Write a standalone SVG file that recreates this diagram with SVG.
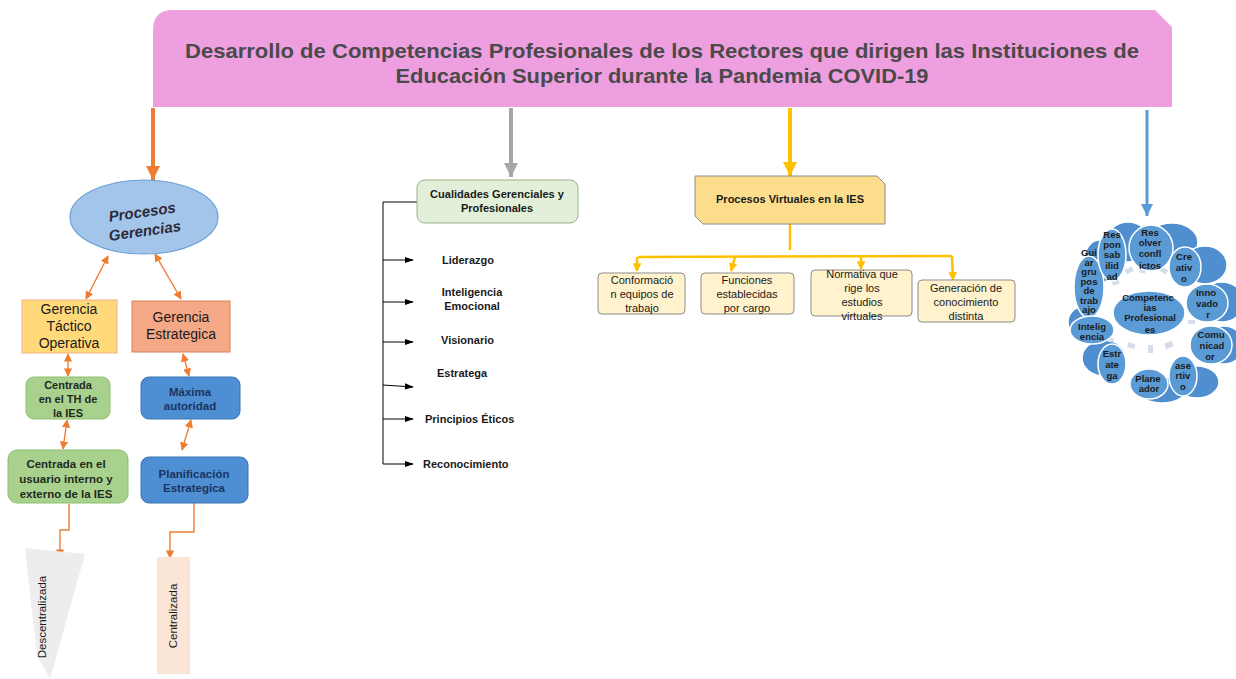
<svg xmlns="http://www.w3.org/2000/svg" width="1236" height="679" viewBox="0 0 1236 679">
<defs>
<style>
.t{font-family:"Liberation Sans",Arial,sans-serif;}
.b{font-weight:bold;}
.c{text-anchor:middle;}
.oc{stroke:#ED7D31;stroke-width:1.4;fill:none;}
.blk{stroke:#000;stroke-width:1;fill:none;}
.yl{stroke:#FFC000;stroke-width:2.5;fill:none;}
.cl{fill:#5B9BD5;stroke:#fff;stroke-width:1.5;}
.tl{fill:#4F8FCF;stroke:#fff;stroke-width:1.5;}
.ct{font-family:"Liberation Sans",Arial,sans-serif;font-weight:bold;font-size:9.5px;text-anchor:middle;fill:#1a1a1a;}
.ds{fill:#D5DDE8;}
</style>
<marker id="mO" viewBox="0 0 10 10" refX="10" refY="5" markerWidth="3.5" markerHeight="3.5" orient="auto"><path d="M0,0L10,5L0,10z" fill="#ED7D31"/></marker>
<marker id="mG" viewBox="0 0 10 10" refX="10" refY="5" markerWidth="3.5" markerHeight="3.5" orient="auto"><path d="M0,0L10,5L0,10z" fill="#A6A6A6"/></marker>
<marker id="mY" viewBox="0 0 10 10" refX="10" refY="5" markerWidth="3.5" markerHeight="3.5" orient="auto"><path d="M0,0L10,5L0,10z" fill="#FFC000"/></marker>
<marker id="mB" viewBox="0 0 10 10" refX="10" refY="5" markerWidth="4" markerHeight="4" orient="auto"><path d="M0,0L10,5L0,10z" fill="#5B9BD5"/></marker>
<marker id="so" viewBox="0 0 10 10" refX="9" refY="5" markerWidth="6" markerHeight="6" orient="auto-start-reverse"><path d="M0,0L10,5L0,10z" fill="#ED7D31"/></marker>
<marker id="sk" viewBox="0 0 10 10" refX="9" refY="5" markerWidth="9" markerHeight="9" orient="auto"><path d="M0,1.5L10,5L0,8.5z" fill="#000"/></marker>
<marker id="sy" viewBox="0 0 10 10" refX="9" refY="5" markerWidth="3.5" markerHeight="3.5" orient="auto"><path d="M0,0L10,5L0,10z" fill="#FFC000"/></marker>
</defs>
<rect width="1236" height="679" fill="#fff"/>

<g id="banner">
<path d="M153,30Q153,10 173,10L1155,10L1172,27L1172,107L153,107Z" fill="#EE9FE0"/>
<text class="t b c" x="662" y="58" font-size="21" fill="#4a4a4a" textLength="954" lengthAdjust="spacingAndGlyphs">Desarrollo de Competencias Profesionales de los Rectores que dirigen las Instituciones de</text>
<text class="t b c" x="662" y="83" font-size="21" fill="#4a4a4a" textLength="533" lengthAdjust="spacingAndGlyphs">Educación Superior durante la Pandemia COVID-19</text>
</g>

<g id="connectors">
<line x1="153" y1="108" x2="153" y2="180" stroke="#ED7D31" stroke-width="4" marker-end="url(#mO)"/>
<line x1="511" y1="108" x2="511" y2="177" stroke="#A6A6A6" stroke-width="4" marker-end="url(#mG)"/>
<line x1="790" y1="108" x2="790" y2="176" stroke="#FFC000" stroke-width="4" marker-end="url(#mY)"/>
<line x1="1147" y1="110" x2="1147" y2="216" stroke="#5B9BD5" stroke-width="3" marker-end="url(#mB)"/>
<line class="oc" x1="108" y1="256" x2="86" y2="299" marker-start="url(#so)" marker-end="url(#so)"/>
<line class="oc" x1="155" y1="254" x2="181" y2="299" marker-start="url(#so)" marker-end="url(#so)"/>
<line class="oc" x1="68" y1="354" x2="68" y2="376" marker-start="url(#so)" marker-end="url(#so)"/>
<line class="oc" x1="183" y1="354" x2="189" y2="376" marker-start="url(#so)" marker-end="url(#so)"/>
<line class="oc" x1="67" y1="420" x2="63" y2="449" marker-start="url(#so)" marker-end="url(#so)"/>
<line class="oc" x1="191" y1="420" x2="182" y2="450" marker-start="url(#so)" marker-end="url(#so)"/>
<path class="oc" d="M69,504V530H60V557" marker-end="url(#so)"/>
<path class="oc" d="M194,503V532H170V558" marker-end="url(#so)"/>
<path class="blk" d="M417,202H383V464"/>
<line class="blk" x1="383" y1="260" x2="413" y2="260" marker-end="url(#sk)"/>
<line class="blk" x1="383" y1="302" x2="413" y2="302" marker-end="url(#sk)"/>
<line class="blk" x1="383" y1="342" x2="413" y2="342" marker-end="url(#sk)"/>
<line class="blk" x1="383" y1="385" x2="413" y2="387" marker-end="url(#sk)"/>
<line class="blk" x1="383" y1="419" x2="413" y2="419" marker-end="url(#sk)"/>
<line class="blk" x1="383" y1="464" x2="413" y2="464" marker-end="url(#sk)"/>
<line class="yl" x1="790" y1="224" x2="790" y2="250"/>
<line class="yl" x1="638" y1="257" x2="952" y2="256"/>
<line class="yl" x1="637" y1="257" x2="637" y2="271" marker-end="url(#sy)"/>
<line class="yl" x1="735" y1="257" x2="731" y2="271" marker-end="url(#sy)"/>
<line class="yl" x1="861" y1="256" x2="861" y2="269" marker-end="url(#sy)"/>
<line class="yl" x1="952" y1="256" x2="953" y2="280" marker-end="url(#sy)"/>
</g>

<g id="procesos-gerencias">
<ellipse cx="144" cy="217" rx="74" ry="37" fill="#A4C5EA" stroke="#6B9FD6" stroke-width="1.2"/>
<g transform="rotate(-8 144 225)">
<text class="t b c" x="144" y="217" font-size="15" font-style="italic" fill="#2b2b3a">Procesos</text>
<text class="t b c" x="144" y="236" font-size="15" font-style="italic" fill="#2b2b3a">Gerencias</text>
</g>
</g>

<g id="gerencia-tactico">
<rect x="22" y="300" width="95" height="53" fill="#FFD97A" stroke="#F4B183" stroke-width="1"/>
<text class="t c" x="69" y="314" font-size="14" fill="#1a1a1a">Gerencia</text>
<text class="t c" x="69" y="331" font-size="14" fill="#1a1a1a">Táctico</text>
<text class="t c" x="69" y="348" font-size="14" fill="#1a1a1a">Operativa</text>
</g>

<g id="gerencia-estrategica">
<rect x="132" y="301" width="98" height="51" fill="#F4A886" stroke="#D9825B" stroke-width="1"/>
<text class="t c" x="181" y="322" font-size="14" fill="#1a1a1a">Gerencia</text>
<text class="t c" x="181" y="339" font-size="14" fill="#1a1a1a">Estrategica</text>
</g>

<g id="centrada-th">
<rect x="26" y="377" width="84" height="42" rx="8" fill="#A9D18E" stroke="#8CBF6E" stroke-width="1"/>
<text class="t b c" x="68" y="389" font-size="11" fill="#1f2a1f">Centrada</text>
<text class="t b c" x="68" y="403" font-size="11" fill="#1f2a1f">en el TH de</text>
<text class="t b c" x="68" y="417" font-size="11" fill="#1f2a1f">la IES</text>
</g>

<g id="centrada-usuario">
<rect x="8" y="450" width="120" height="53" rx="9" fill="#A9D18E" stroke="#8CBF6E" stroke-width="1"/>
<text class="t b c" x="66" y="468" font-size="11.5" fill="#1f2a1f">Centrada en el</text>
<text class="t b c" x="66" y="483" font-size="11.5" fill="#1f2a1f">usuario interno y</text>
<text class="t b c" x="66" y="498" font-size="11.5" fill="#1f2a1f">externo de la IES</text>
</g>

<g id="maxima-autoridad">
<rect x="141" y="377" width="99" height="42" rx="8" fill="#4E8FD4" stroke="#3A72B0" stroke-width="1"/>
<text class="t b c" x="190" y="396" font-size="11.5" fill="#1C3461">Máxima</text>
<text class="t b c" x="190" y="410" font-size="11.5" fill="#1C3461">autoridad</text>
</g>

<g id="planificacion">
<rect x="141" y="457" width="107" height="46" rx="8" fill="#4E8FD4" stroke="#3A72B0" stroke-width="1"/>
<text class="t b c" x="194" y="478" font-size="11.5" fill="#1C3461">Planificación</text>
<text class="t b c" x="194" y="492" font-size="11.5" fill="#1C3461">Estrategica</text>
</g>

<g id="descentralizada">
<polygon points="25,548 85,554 50,679 37,655" fill="#EDEDED"/>
<text class="t c" transform="translate(46,617) rotate(-90)" font-size="11.5" fill="#1a1a1a">Descentralizada</text>
</g>

<g id="centralizada">
<rect x="157" y="557" width="33" height="117" fill="#FBE5D6"/>
<text class="t c" transform="translate(177,616) rotate(-90)" font-size="11.5" fill="#1a1a1a">Centralizada</text>
</g>

<g id="cualidades">
<rect x="417" y="180" width="161" height="43" rx="8" fill="#E2F0D9" stroke="#9BB08C" stroke-width="1"/>
<text class="t b c" x="497" y="198" font-size="11" fill="#1a1a1a" textLength="134" lengthAdjust="spacingAndGlyphs">Cualidades Gerenciales y</text>
<text class="t b c" x="497" y="212" font-size="11" fill="#1a1a1a">Profesionales</text>
</g>
<g id="liderazgo"><text class="t b" x="442" y="264" font-size="11" fill="#1a1a1a">Liderazgo</text></g>
<g id="inteligencia-emocional">
<text class="t b c" x="472" y="296" font-size="11" fill="#1a1a1a">Inteligencia</text>
<text class="t b c" x="472" y="310" font-size="11" fill="#1a1a1a">Emocional</text>
</g>
<g id="visionario"><text class="t b" x="441" y="344" font-size="11" fill="#1a1a1a">Visionario</text></g>
<g id="estratega"><text class="t b" x="437" y="377" font-size="11" fill="#1a1a1a">Estratega</text></g>
<g id="principios"><text class="t b" x="425" y="423" font-size="11" fill="#1a1a1a">Principios Éticos</text></g>
<g id="reconocimiento"><text class="t b" x="423" y="468" font-size="11" fill="#1a1a1a">Reconocimiento</text></g>

<g id="procesos-virtuales">
<path d="M695,176H877L885,184V224H703L695,216Z" fill="#FCDD8C" stroke="#8C8C8C" stroke-width="1"/>
<text class="t b c" x="790" y="203" font-size="11" fill="#1a1a1a" textLength="148" lengthAdjust="spacingAndGlyphs">Procesos Virtuales en la IES</text>
</g>

<g id="conformacion">
<rect x="598" y="273" width="87" height="41" rx="4" fill="#FFF2CC" stroke="#8C8C8C" stroke-width="1"/>
<text class="t c" x="642" y="284" font-size="11" fill="#1a1a1a">Conformació</text>
<text class="t c" x="642" y="298" font-size="11" fill="#1a1a1a">n equipos de</text>
<text class="t c" x="642" y="312" font-size="11" fill="#1a1a1a">trabajo</text>
</g>
<g id="funciones">
<rect x="701" y="273" width="93" height="41" rx="4" fill="#FFF2CC" stroke="#8C8C8C" stroke-width="1"/>
<text class="t c" x="747" y="284" font-size="11" fill="#1a1a1a">Funciones</text>
<text class="t c" x="747" y="298" font-size="11" fill="#1a1a1a">establecidas</text>
<text class="t c" x="747" y="312" font-size="11" fill="#1a1a1a">por cargo</text>
</g>
<g id="normativa">
<rect x="811" y="270" width="101" height="46" rx="4" fill="#FFF2CC" stroke="#8C8C8C" stroke-width="1"/>
<text class="t c" x="862" y="278" font-size="11" fill="#1a1a1a">Normativa que</text>
<text class="t c" x="862" y="292" font-size="11" fill="#1a1a1a">rige los</text>
<text class="t c" x="862" y="306" font-size="11" fill="#1a1a1a">estudios</text>
<text class="t c" x="862" y="320" font-size="11" fill="#1a1a1a">virtuales</text>
</g>
<g id="generacion">
<rect x="918" y="280" width="97" height="42" rx="4" fill="#FFF2CC" stroke="#8C8C8C" stroke-width="1"/>
<text class="t c" x="966" y="292" font-size="11" fill="#1a1a1a">Generación de</text>
<text class="t c" x="966" y="306" font-size="11" fill="#1a1a1a">conocimiento</text>
<text class="t c" x="966" y="320" font-size="11" fill="#1a1a1a">distinta</text>
</g>

<g id="competencias-cluster">
<ellipse class="tl" cx="1128" cy="242" rx="22" ry="20"/>
<ellipse class="tl" cx="1172" cy="242" rx="26" ry="19"/>
<ellipse class="tl" cx="1205" cy="265" rx="22" ry="19"/>
<ellipse class="tl" cx="1222" cy="302" rx="22" ry="20"/>
<ellipse class="tl" cx="1224" cy="345" rx="20" ry="19"/>
<ellipse class="tl" cx="1197" cy="382" rx="22" ry="16"/>
<ellipse class="tl" cx="1162" cy="390" rx="24" ry="13"/>
<ellipse class="tl" cx="1104" cy="358" rx="22" ry="18"/>
<ellipse class="tl" cx="1082" cy="322" rx="14" ry="15"/>
<ellipse class="tl" cx="1099" cy="262" rx="15" ry="22"/>
<rect class="ds" x="1125" y="268" width="8" height="5" transform="rotate(-30 1129 270)"/>
<rect class="ds" x="1140" y="264" width="6" height="9" transform="rotate(10 1143 268)"/>
<rect class="ds" x="1160" y="268" width="8" height="5" transform="rotate(30 1164 270)"/>
<rect class="ds" x="1175" y="278" width="6" height="6"/>
<rect class="ds" x="1112" y="280" width="7" height="5" transform="rotate(-20 1115 282)"/>
<rect class="ds" x="1188" y="320" width="7" height="4"/>
<rect class="ds" x="1128" y="343" width="7" height="5" transform="rotate(20 1131 345)"/>
<rect class="ds" x="1148" y="345" width="5" height="8"/>
<rect class="ds" x="1165" y="342" width="8" height="6" transform="rotate(-20 1169 345)"/>
<rect class="ds" x="1108" y="338" width="6" height="4"/>
<ellipse class="cl" cx="1089" cy="287" rx="15" ry="31"/>
<ellipse class="cl" cx="1112" cy="255" rx="14" ry="26"/>
<ellipse class="cl" cx="1151" cy="248" rx="22" ry="23"/>
<ellipse class="cl" cx="1185" cy="267" rx="16" ry="20"/>
<ellipse class="cl" cx="1207" cy="303" rx="21" ry="19"/>
<ellipse class="cl" cx="1211" cy="345" rx="21" ry="19"/>
<ellipse class="cl" cx="1183" cy="376" rx="14" ry="20"/>
<ellipse class="cl" cx="1149" cy="384" rx="19" ry="15"/>
<ellipse class="cl" cx="1112" cy="364" rx="14" ry="20"/>
<ellipse class="cl" cx="1092" cy="330" rx="22" ry="14"/>
<ellipse class="cl" cx="1149" cy="313" rx="36" ry="22"/>
<text class="ct" x="1112" y="238">Res</text>
<text class="ct" x="1112" y="248">pon</text>
<text class="ct" x="1112" y="258">sab</text>
<text class="ct" x="1112" y="269">ilid</text>
<text class="ct" x="1112" y="280">ad</text>
<text class="ct" x="1150" y="236">Res</text>
<text class="ct" x="1150" y="246">olver</text>
<text class="ct" x="1150" y="257">confl</text>
<text class="ct" x="1150" y="269">ictos</text>
<text class="ct" x="1184" y="260">Cre</text>
<text class="ct" x="1184" y="271">ativ</text>
<text class="ct" x="1184" y="282">o</text>
<text class="ct" x="1089" y="256">Gui</text>
<text class="ct" x="1089" y="265.5">ar</text>
<text class="ct" x="1089" y="275">gru</text>
<text class="ct" x="1089" y="284.5">pos</text>
<text class="ct" x="1089" y="294">de</text>
<text class="ct" x="1089" y="303.5">trab</text>
<text class="ct" x="1089" y="313">ajo</text>
<text class="ct" x="1206" y="296">Inno</text>
<text class="ct" x="1207" y="307">vado</text>
<text class="ct" x="1208" y="318">r</text>
<text class="ct" x="1092" y="330">Intelig</text>
<text class="ct" x="1092" y="340">encia</text>
<text class="ct" x="1211" y="338">Comu</text>
<text class="ct" x="1212" y="349">nicad</text>
<text class="ct" x="1210" y="360">or</text>
<text class="ct" x="1112" y="357">Estr</text>
<text class="ct" x="1112" y="368">ate</text>
<text class="ct" x="1112" y="379">ga</text>
<text class="ct" x="1148" y="382">Plane</text>
<text class="ct" x="1149" y="392">ador</text>
<text class="ct" x="1183" y="369">ase</text>
<text class="ct" x="1183" y="379">rtiv</text>
<text class="ct" x="1183" y="390">o</text>
<text class="ct" x="1148" y="301">Competenc</text>
<text class="ct" x="1150" y="311">ias</text>
<text class="ct" x="1150" y="321">Profesional</text>
<text class="ct" x="1150" y="333">es</text>
</g>
</svg>
